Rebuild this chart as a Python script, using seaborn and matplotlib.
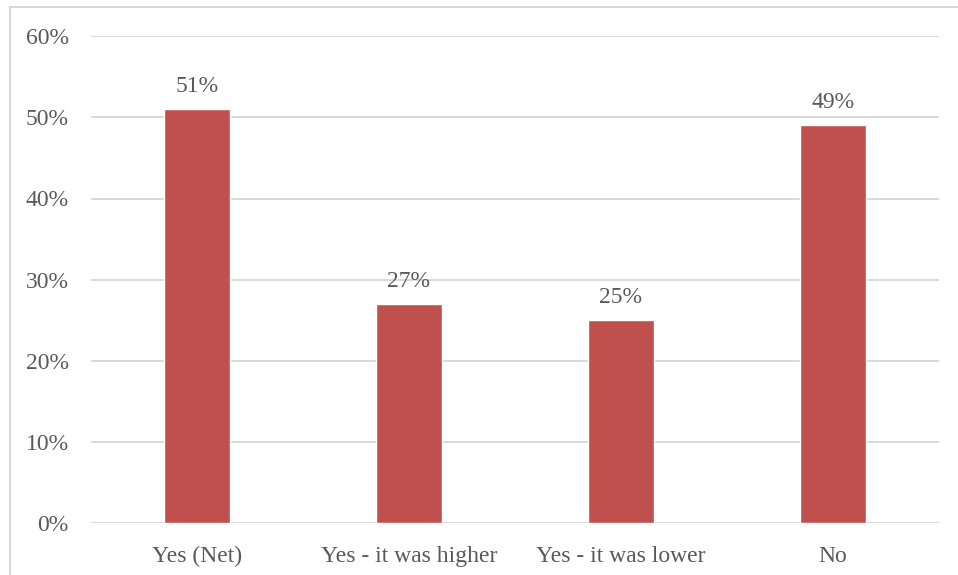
import matplotlib
matplotlib.use("Agg")
import matplotlib.pyplot as plt
import matplotlib.patches as mpatches
from matplotlib.ticker import PercentFormatter
import seaborn as sns
import pandas as pd

categories = ["Yes (Net)", "Yes - it was higher", "Yes - it was lower", "No"]
shares = [51, 27, 25, 49]
y_ticks = [0, 10, 20, 30, 40, 50, 60]

BAR = "#C0504D"
GRID = "#D9D9D9"
TEXT = "#595959"

sns.set_theme(style="white")
plt.rcParams["font.family"] = ["Liberation Serif", "DejaVu Serif"]

df = pd.DataFrame({"category": categories, "share": shares})

fig = plt.figure(figsize=(9.58, 5.75), dpi=100)
ax = fig.add_axes([91 / 958, 1 - 523.3 / 575, (939 - 91) / 958, (523.3 - 36.1) / 575])

sns.barplot(data=df, x="category", y="share", color=BAR, width=0.316,
            saturation=1, ax=ax, zorder=3)

ax.set_ylim(0, 60)
ax.set_yticks(y_ticks)
ax.yaxis.set_major_formatter(PercentFormatter(decimals=0))
ax.grid(axis="y", color=GRID, linewidth=1.4, zorder=0)
ax.set_axisbelow(True)
for side in ["top", "right", "left", "bottom"]:
    ax.spines[side].set_visible(False)
ax.set_xlabel("")
ax.set_ylabel("")
ax.tick_params(axis="both", length=0, labelsize=17, labelcolor=TEXT)
ax.tick_params(axis="y", pad=16)
ax.tick_params(axis="x", pad=16)

for patch, val in zip(ax.patches, shares):
    ax.annotate(f"{val}%", (patch.get_x() + patch.get_width() / 2, patch.get_height()),
                xytext=(0, 9), textcoords="offset points", ha="center", va="bottom",
                fontsize=17, color=TEXT)

# light frame around the chart area
frame = mpatches.Rectangle((9.5 / 958, -0.05), 1.2, 1 - 6.5 / 575 + 0.05,
                           transform=fig.transFigure, fill=False,
                           edgecolor=GRID, linewidth=1.5, clip_on=False)
fig.patches.append(frame)

fig.savefig("out.png", dpi=100, facecolor="white")
